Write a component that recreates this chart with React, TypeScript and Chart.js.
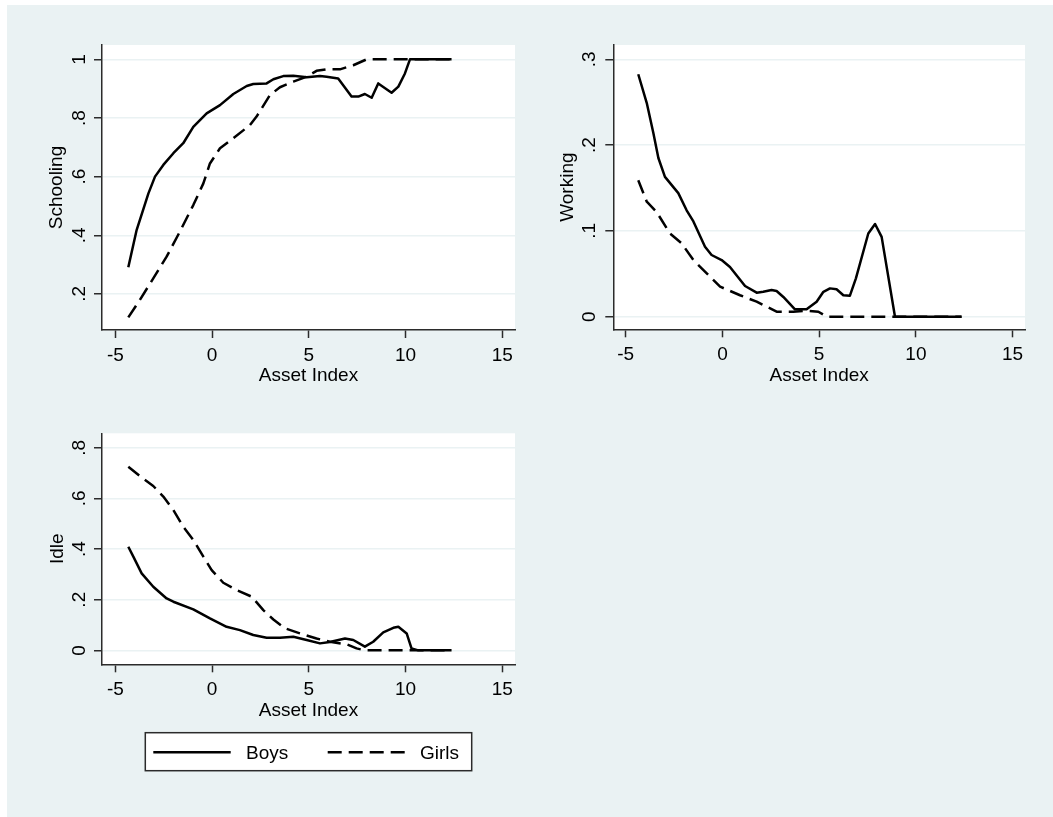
import React, { useEffect, useRef } from "react";
import { Chart, registerables } from "chart.js";

Chart.register(...registerables);

// ---------- data ----------
const xTicks = [-5, 0, 5, 10, 15];

const schoolingTicks = [0.2, 0.4, 0.6, 0.8, 1];
const schoolingBoysX = [-4.33, -3.9, -3.29, -2.95, -2.52, -2.0, -1.49, -0.97, -0.28, 0.41, 1.1, 1.79, 2.13, 2.82, 3.17, 3.68, 4.2, 4.89, 5.58, 5.92, 6.52, 7.21, 7.56, 7.9, 8.25, 8.59, 9.28, 9.63, 9.97, 10.23, 12.38];
const schoolingBoysY = [0.291, 0.418, 0.543, 0.6, 0.64, 0.68, 0.714, 0.77, 0.816, 0.844, 0.882, 0.909, 0.916, 0.918, 0.932, 0.943, 0.944, 0.939, 0.943, 0.941, 0.935, 0.873, 0.873, 0.882, 0.869, 0.918, 0.886, 0.907, 0.952, 1.0, 1.0];
const schoolingGirlsX = [-4.33, -3.73, -3.04, -2.35, -1.66, -0.97, -0.45, -0.11, 0.41, 1.1, 1.96, 2.3, 2.99, 3.51, 4.2, 4.89, 5.4, 5.92, 6.61, 7.3, 7.99, 12.38];
const schoolingGirlsY = [0.12, 0.18, 0.253, 0.327, 0.413, 0.503, 0.577, 0.645, 0.697, 0.731, 0.776, 0.805, 0.878, 0.905, 0.924, 0.941, 0.961, 0.966, 0.966, 0.98, 1.0, 1.0];

const workingTicks = [0, 0.1, 0.2, 0.3];
const workingBoysX = [-4.35, -3.91, -3.57, -3.31, -2.97, -2.28, -1.85, -1.5, -0.9, -0.56, -0.04, 0.39, 1.17, 1.77, 2.11, 2.54, 2.8, 3.15, 3.75, 4.35, 4.87, 5.22, 5.56, 5.9, 6.25, 6.59, 6.9, 7.54, 7.89, 8.23, 8.92, 12.36];
const workingBoysY = [0.2826, 0.249, 0.214, 0.185, 0.163, 0.144, 0.124, 0.111, 0.0816, 0.0719, 0.066, 0.058, 0.0358, 0.028, 0.029, 0.031, 0.03, 0.023, 0.0086, 0.0086, 0.0175, 0.029, 0.033, 0.032, 0.025, 0.0245, 0.0447, 0.097, 0.108, 0.093, 0, 0];
const workingGirlsX = [-4.35, -3.91, -3.4, -2.71, -2.11, -1.5, -0.81, -0.12, 0.91, 1.77, 2.8, 3.66, 4.35, 4.96, 5.39, 12.36];
const workingGirlsY = [0.159, 0.134, 0.122, 0.097, 0.0855, 0.066, 0.0505, 0.035, 0.025, 0.0175, 0.0058, 0.0058, 0.007, 0.0058, 0, 0];

const idleTicks = [0, 0.2, 0.4, 0.6, 0.8];
const idleBoysX = [-4.33, -4.07, -3.64, -3.04, -2.35, -2.0, -0.97, -0.11, 0.75, 1.44, 2.13, 2.82, 3.51, 4.2, 4.89, 5.58, 6.09, 6.87, 7.3, 7.9, 8.33, 8.85, 9.37, 9.63, 10.06, 10.31, 10.66, 12.38];
const idleBoysY = [0.409, 0.37, 0.304, 0.251, 0.205, 0.192, 0.162, 0.126, 0.093, 0.08, 0.0605, 0.05, 0.05, 0.054, 0.041, 0.0276, 0.033, 0.047, 0.041, 0.0145, 0.034, 0.071, 0.089, 0.093, 0.067, 0.008, 0, 0];
const idleGirlsX = [-4.33, -3.73, -3.04, -2.52, -2.0, -1.49, -0.97, -0.45, -0.02, 0.58, 1.27, 2.05, 2.65, 3.17, 3.77, 4.54, 5.4, 6.09, 6.95, 7.47, 7.9, 12.38];
const idleGirlsY = [0.725, 0.688, 0.649, 0.607, 0.554, 0.488, 0.436, 0.37, 0.317, 0.267, 0.238, 0.212, 0.159, 0.122, 0.087, 0.067, 0.047, 0.034, 0.024, 0.008, 0, 0];

const seriesLabels = ["Boys", "Girls"];
const xTitle = "Asset Index";

// ---------- styling ----------
const FONT = '"Liberation Sans", Arial, Helvetica, sans-serif';
const BG = "#eaf2f3";
const AXIS = "#2b2b2b";
const GRID = "#eaf2f3";
const GIRLS_DASH = [14, 7];

type Panel = {
  left: number; top: number; width: number; height: number;
  yTitle: string;
  yTicks: number[];
  boysX: number[]; boysY: number[]; girlsX: number[]; girlsY: number[];
  xMin: number; xMax: number; yMin: number; yMax: number;
  yAxisWidth: number; xAxisHeight: number;
  padTop: number; padRight: number; padBottom: number;
  yTickPad: number; yTitlePad: number; xTitlePad: number;
  legend?: boolean;
};

const panels: Panel[] = [
  {
    left: 20, top: 20, width: 510, height: 375,
    yTitle: "Schooling", yTicks: schoolingTicks,
    boysX: schoolingBoysX, boysY: schoolingBoysY, girlsX: schoolingGirlsX, girlsY: schoolingGirlsY,
    xMin: -5.69, xMax: 15.66, yMin: 0.077, yMax: 1.049,
    yAxisWidth: 82, xAxisHeight: 65, padTop: 25, padRight: 15, padBottom: 0,
    yTickPad: 6, yTitlePad: 25, xTitlePad: 7.5,
  },
  {
    left: 530, top: 20, width: 515, height: 375,
    yTitle: "Working", yTicks: workingTicks,
    boysX: workingBoysX, boysY: workingBoysY, girlsX: workingGirlsX, girlsY: workingGirlsY,
    xMin: -5.64, xMax: 15.64, yMin: -0.0147, yMax: 0.3167,
    yAxisWidth: 83.3, xAxisHeight: 65.7, padTop: 25, padRight: 20, padBottom: 0,
    yTickPad: 8, yTitlePad: 26, xTitlePad: 7.5,
  },
  {
    left: 20, top: 400, width: 510, height: 395,
    yTitle: "Idle", yTicks: idleTicks,
    boysX: idleBoysX, boysY: idleBoysY, girlsX: idleGirlsX, girlsY: idleGirlsY,
    xMin: -5.69, xMax: 15.66, yMin: -0.055, yMax: 0.857,
    yAxisWidth: 82, xAxisHeight: 65, padTop: 33.3, padRight: 15, padBottom: 65.7,
    yTickPad: 6, yTitlePad: 26, xTitlePad: 7.5,
    legend: true,
  },
];

const fmtY = (v: number) => {
  const s = String(Number(v.toFixed(3)));
  return s.replace(/^0\./, ".").replace(/^-0\./, "-.");
};

const toPoints = (xs: number[], ys: number[]) => xs.map((x, i) => ({ x, y: ys[i] }));

const plotBgPlugin = {
  id: "plotBg",
  beforeDraw(chart: any) {
    const { ctx, chartArea: a } = chart;
    ctx.save();
    ctx.fillStyle = "#ffffff";
    ctx.fillRect(a.left, a.top, a.right - a.left, a.bottom - a.top);
    ctx.restore();
  },
};

const legendPlugin = {
  id: "stataLegend",
  afterDraw(chart: any, _args: any, opts: any) {
    if (!opts || !opts.show) return;
    const { ctx, chartArea: a } = chart;
    const bx = a.left + 43.3;
    const by = a.bottom + 68.4;
    const bw = 326.4;
    const bh = 38;
    const cy = by + 19.6;
    ctx.save();
    ctx.fillStyle = "#ffffff";
    ctx.fillRect(bx, by, bw, bh);
    ctx.strokeStyle = AXIS;
    ctx.lineWidth = 1.5;
    ctx.strokeRect(bx, by, bw, bh);
    ctx.strokeStyle = "#000";
    ctx.lineWidth = 2.5;
    ctx.setLineDash([]);
    ctx.beginPath();
    ctx.moveTo(bx + 8, cy);
    ctx.lineTo(bx + 85.4, cy);
    ctx.stroke();
    ctx.setLineDash(GIRLS_DASH);
    ctx.beginPath();
    ctx.moveTo(bx + 182.4, cy);
    ctx.lineTo(bx + 259.7, cy);
    ctx.stroke();
    ctx.setLineDash([]);
    ctx.fillStyle = "#000";
    ctx.font = `19px ${FONT}`;
    ctx.textBaseline = "middle";
    ctx.textAlign = "left";
    ctx.fillText(seriesLabels[0], bx + 100.7, cy + 1);
    ctx.fillText(seriesLabels[1], bx + 274.7, cy + 1);
    ctx.restore();
  },
};

function makeChart(canvas: HTMLCanvasElement, p: Panel) {
  return new Chart(canvas, {
    type: "line",
    data: {
      datasets: [
        {
          label: seriesLabels[0],
          data: toPoints(p.boysX, p.boysY),
          borderColor: "#000",
          borderWidth: 2.5,
          pointRadius: 0,
          fill: false,
          tension: 0,
          borderJoinStyle: "round",
        },
        {
          label: seriesLabels[1],
          data: toPoints(p.girlsX, p.girlsY),
          borderColor: "#000",
          borderWidth: 2.5,
          borderDash: GIRLS_DASH,
          pointRadius: 0,
          fill: false,
          tension: 0,
          borderJoinStyle: "round",
        },
      ],
    },
    options: {
      responsive: false,
      animation: false,
      events: [],
      layout: { padding: { left: 0, top: p.padTop, right: p.padRight, bottom: p.padBottom } },
      plugins: {
        legend: { display: false },
        tooltip: { enabled: false },
        stataLegend: { show: !!p.legend },
      } as any,
      scales: {
        x: {
          type: "linear",
          min: p.xMin,
          max: p.xMax,
          afterBuildTicks: (scale: any) => {
            scale.ticks = xTicks.map((value) => ({ value }));
          },
          afterFit: (scale: any) => {
            scale.height = p.xAxisHeight;
          },
          grid: {
            drawOnChartArea: false,
            drawTicks: true,
            tickLength: 8,
            tickColor: AXIS,
            tickWidth: 1.5,
          },
          border: { display: true, color: AXIS, width: 1.5 },
          ticks: {
            color: "#000",
            font: { family: FONT, size: 19 },
            padding: 6.5,
            maxRotation: 0,
            minRotation: 0,
            autoSkip: false,
            callback: (v: any) => String(v),
          },
          title: {
            display: true,
            text: xTitle,
            color: "#000",
            font: { family: FONT, size: 19 },
            padding: { top: 0, bottom: p.xTitlePad },
          },
        },
        y: {
          type: "linear",
          min: p.yMin,
          max: p.yMax,
          afterBuildTicks: (scale: any) => {
            scale.ticks = p.yTicks.map((value) => ({ value }));
          },
          afterFit: (scale: any) => {
            scale.width = p.yAxisWidth;
          },
          grid: {
            drawOnChartArea: true,
            color: GRID,
            lineWidth: 1.5,
            drawTicks: true,
            tickLength: 8,
            tickColor: AXIS,
            tickWidth: 1.5,
          },
          border: { display: true, color: AXIS, width: 1.5 },
          ticks: {
            color: "#000",
            font: { family: FONT, size: 19 },
            padding: p.yTickPad,
            minRotation: 90,
            maxRotation: 90,
            crossAlign: "center",
            autoSkip: false,
            callback: (v: any) => fmtY(Number(v)),
          },
          title: {
            display: true,
            text: p.yTitle,
            color: "#000",
            font: { family: FONT, size: 19 },
            padding: { top: p.yTitlePad, bottom: 0 },
          },
        },
      },
    } as any,
    plugins: [plotBgPlugin, legendPlugin],
  });
}

export default function App() {
  const refs = [useRef<HTMLCanvasElement>(null), useRef<HTMLCanvasElement>(null), useRef<HTMLCanvasElement>(null)];

  useEffect(() => {
    const charts: Chart[] = [];
    panels.forEach((p, i) => {
      const c = refs[i].current;
      if (c) charts.push(makeChart(c, p));
    });
    return () => charts.forEach((c) => c.destroy());
  }, []);

  return (
    <div>
      <div
        style={{
          position: "absolute",
          left: 7,
          top: 5,
          width: 1046,
          height: 812,
          background: BG,
        }}
      />
      {panels.map((p, i) => (
        <canvas
          key={i}
          ref={refs[i]}
          width={p.width}
          height={p.height}
          style={{
            position: "absolute",
            left: p.left,
            top: p.top,
            width: p.width,
            height: p.height,
          }}
        />
      ))}
    </div>
  );
}
